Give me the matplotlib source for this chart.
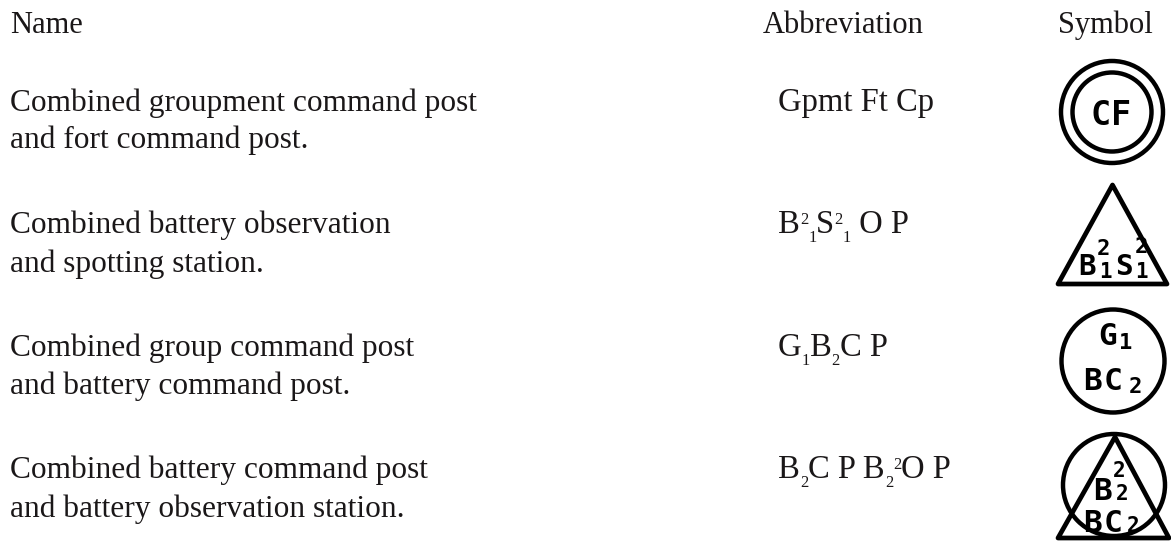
import matplotlib
matplotlib.use('Agg')
from matplotlib import pyplot as plt
from matplotlib.patches import Circle, Polygon

headers = ["Name", "Abbreviation", "Symbol"]
names = [
    ["Combined groupment command post", "and fort command post."],
    ["Combined battery observation", "and spotting station."],
    ["Combined group command post", "and battery command post."],
    ["Combined battery command post", "and battery observation station."],
]
# each piece is (text, level): 0 normal, 1 raised, -1 lowered
abbreviations = [
    [("Gpmt Ft Cp", 0)],
    [("B", 0), ("2", 1), ("1", -1), ("S", 0), ("2", 1), ("1", -1), (" O P", 0)],
    [("G", 0), ("1", -1), ("B", 0), ("2", -1), ("C P", 0)],
    [("B", 0), ("2", -1), ("C P B", 0), ("2", -1), ("2", 1), ("O P", 0)],
]

SERIF = "Liberation Serif"
MONO = "DejaVu Sans Mono"
INK = "#1a1718"
HEAD_SIZE = 22
NAME_SIZE = 22.6
ABBR_SIZE = 23.5


def draw_runs(ax, x, y, pieces, size=ABBR_SIZE):
    """writes normal, raised and lowered pieces one after the other on a baseline"""
    renderer = ax.figure.canvas.get_renderer()
    for text, level in pieces:
        fs = size if level == 0 else size * 0.5
        offset = {0: 0, 1: -9, -1: 9}[level]
        ax.text(x, y + offset, text, family=SERIF, fontsize=fs, color=INK,
                ha='left', va='baseline')
        # measuring between two x keeps the spaces in the width
        probe = ax.text(0, 0, "x" + text + "x", family=SERIF, fontsize=fs)
        wide = probe.get_window_extent(renderer).width
        probe.set_text("xx")
        wide -= probe.get_window_extent(renderer).width
        probe.remove()
        x += wide


def letter(ax, x, y, text, size=22.5):
    ax.text(x, y, text, family=MONO, fontsize=size, fontweight='bold',
            color='black', ha='center', va='baseline')


def ring(ax, x, y, r, lw=3.2):
    ax.add_patch(Circle((x, y), r, fill=False, ec='black', lw=lw))


def triangle(ax, apex, base_y, left, right, lw=3.4):
    ax.add_patch(Polygon([apex, (left, base_y), (right, base_y)], closed=True,
                         fill=False, ec='black', lw=lw, joinstyle='round'))


fig = plt.figure(figsize=(11.71, 5.44), dpi=100)
ax = fig.add_axes([0, 0, 1, 1])
ax.set_xlim(0, 1171)
ax.set_ylim(544, 0)
ax.axis('off')

ax.text(10, 33, headers[0], family=SERIF, fontsize=HEAD_SIZE, color=INK)
ax.text(763, 33, headers[1], family=SERIF, fontsize=HEAD_SIZE, color=INK)
ax.text(1058, 33, headers[2], family=SERIF, fontsize=HEAD_SIZE, color=INK)

first_lines = [110.5, 233, 356, 478]
second_lines = [148, 272, 394, 517]
for base, base2, lines, pieces in zip(first_lines, second_lines, names, abbreviations):
    ax.text(10, base, lines[0], family=SERIF, fontsize=NAME_SIZE, color=INK)
    ax.text(10, base2, lines[1], family=SERIF, fontsize=NAME_SIZE, color=INK)
    draw_runs(ax, 778, base, pieces)

# CF double ring
ring(ax, 1112, 112, 51)
ring(ax, 1112, 112, 39.5)
letter(ax, 1101, 125, "C", 24)
letter(ax, 1121, 125, "F", 24)

# battery observation triangle
triangle(ax, (1112.5, 185), 284, 1058, 1167)
letter(ax, 1087, 275, "B", 21)
letter(ax, 1103.5, 255, "2", 16)
letter(ax, 1105, 278, "1", 15)
letter(ax, 1124, 275, "S", 21)
letter(ax, 1141, 253, "2", 16)
letter(ax, 1141, 278, "1", 15)

# group and battery circle
ring(ax, 1113, 361, 51.5)
letter(ax, 1108, 345, "G")
letter(ax, 1126, 349, "1", 16)
letter(ax, 1093, 390, "B")
letter(ax, 1113, 390, "C")
letter(ax, 1135.5, 393, "2", 16)

# circle over triangle
ring(ax, 1114, 485, 51)
triangle(ax, (1115, 437), 538, 1058, 1169)
letter(ax, 1119.5, 477, "2", 15)
letter(ax, 1103, 500, "B")
letter(ax, 1122.5, 500, "2", 15)
letter(ax, 1092.5, 532, "B")
letter(ax, 1113, 532, "C")
letter(ax, 1133.5, 532, "2", 15)

fig.savefig('out.png', dpi=100)
